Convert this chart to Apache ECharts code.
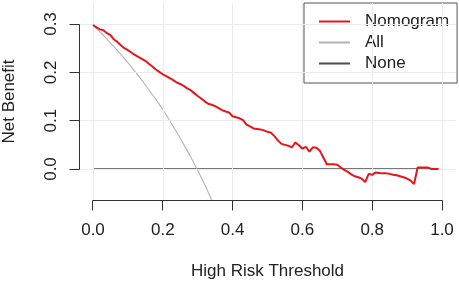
<!DOCTYPE html>
<html>
<head>
<meta charset="utf-8">
<script src="https://cdn.jsdelivr.net/npm/echarts@6/dist/echarts.min.js"></script>
<style>
  html, body { margin: 0; padding: 0; background: #fff; }
  #chart { width: 459px; height: 284px; }
</style>
</head>
<body>
<div id="chart"></div>
<script>
// decision curve: thresholds 0..0.99
const thresholds = [
  0.00, 0.01, 0.02, 0.03, 0.04, 0.05, 0.06, 0.07, 0.08, 0.09,
  0.10, 0.11, 0.12, 0.13, 0.14, 0.15, 0.16, 0.17, 0.18, 0.19,
  0.20, 0.21, 0.22, 0.23, 0.24, 0.25, 0.26, 0.27, 0.28, 0.29,
  0.30, 0.31, 0.32, 0.33, 0.34, 0.35, 0.36, 0.37, 0.38, 0.39,
  0.40, 0.41, 0.42, 0.43, 0.44, 0.45, 0.46, 0.47, 0.48, 0.49,
  0.50, 0.51, 0.52, 0.53, 0.54, 0.55, 0.56, 0.57, 0.58, 0.59,
  0.60, 0.61, 0.62, 0.63, 0.64, 0.65, 0.66, 0.67, 0.68, 0.69,
  0.70, 0.71, 0.72, 0.73, 0.74, 0.75, 0.76, 0.77, 0.78, 0.79,
  0.80, 0.81, 0.82, 0.83, 0.84, 0.85, 0.86, 0.87, 0.88, 0.89,
  0.90, 0.91, 0.92, 0.93, 0.94, 0.95, 0.96, 0.97, 0.98, 0.99
];
const nomogram = [
  0.298, 0.293, 0.289, 0.287, 0.281, 0.277, 0.268, 0.263, 0.256, 0.250,
  0.246, 0.241, 0.236, 0.232, 0.228, 0.224, 0.218, 0.212, 0.206, 0.201,
  0.196, 0.192, 0.188, 0.184, 0.179, 0.176, 0.172, 0.167, 0.163, 0.157,
  0.151, 0.146, 0.140, 0.135, 0.133, 0.130, 0.126, 0.122, 0.119, 0.117,
  0.109, 0.107, 0.105, 0.101, 0.092, 0.088, 0.084, 0.083, 0.082, 0.080,
  0.077, 0.075, 0.068, 0.059, 0.052, 0.050, 0.048, 0.045, 0.055, 0.049,
  0.042, 0.046, 0.036, 0.045, 0.044, 0.038, 0.024, 0.010, 0.010, 0.010,
  0.009, 0.003, -0.002, -0.006, -0.011, -0.015, -0.017, -0.020, -0.027, -0.010,
  -0.012, -0.007, -0.008, -0.009, -0.009, -0.010, -0.012, -0.013, -0.015, -0.017,
  -0.020, -0.024, -0.031, 0.003, 0.003, 0.003, 0.003, 0.000, 0.000, 0.000
];
// treat-all curve (clipped below the plot)
const allThresholds = [0, 0.02, 0.04, 0.06, 0.08, 0.10, 0.12, 0.14, 0.16, 0.18,
  0.20, 0.22, 0.24, 0.26, 0.28, 0.30, 0.32, 0.34, 0.36];
const allValues = [0.298, 0.284, 0.269, 0.253, 0.237, 0.220, 0.202, 0.184, 0.164, 0.144,
  0.123, 0.100, 0.076, 0.051, 0.025, -0.003, -0.032, -0.064, -0.097];
const noneThresholds = [0, 0.99];
const noneValues = [0, 0];

const xTicks = [0, 0.2, 0.4, 0.6, 0.8, 1.0];
const yTicks = [0, 0.1, 0.2, 0.3];

// plot region limits (R usr, 4% expansion)
const X_MIN = -0.04, X_MAX = 1.0401;
const Y_MIN = -0.0641, Y_MAX = 0.3435;
const PLOT = { left: 79, top: 3, width: 377, height: 197 };

const FONT = "'Liberation Sans', Arial, sans-serif";
const AXIS_COLOR = '#333';
const zip = (xs, ys) => xs.map((x, i) => [x, ys[i]]);

// same linear mapping as the grid 0 value axes
const px = v => PLOT.left + (v - X_MIN) / (X_MAX - X_MIN) * PLOT.width;
const py = v => PLOT.top + (Y_MAX - v) / (Y_MAX - Y_MIN) * PLOT.height;
const crisp = p => Math.round(p - 0.5) + 0.5;
const TICK = 10;

const axisLine = (x1, y1, x2, y2) => ({
  type: 'line', silent: true, z: 10,
  shape: { x1: x1, y1: y1, x2: x2, y2: y2 },
  style: { stroke: AXIS_COLOR, lineWidth: 1 }
});
const xBase = crisp(py(Y_MIN));
const yBase = crisp(px(X_MIN));
const axisGraphics = [
  axisLine(crisp(px(xTicks[0])), xBase, crisp(px(xTicks[xTicks.length - 1])), xBase)
]
  .concat(xTicks.map(v => axisLine(crisp(px(v)), xBase, crisp(px(v)), xBase + TICK)))
  .concat([axisLine(yBase, crisp(py(yTicks[0])), yBase, crisp(py(yTicks[yTicks.length - 1])))])
  .concat(yTicks.map(v => axisLine(yBase - TICK, crisp(py(v)), yBase, crisp(py(v)))));

const titles = [
  {
    type: 'text', x: 267.5, y: 271.7,
    style: { text: 'High Risk Threshold', font: '17px ' + FONT, fill: '#222',
      textAlign: 'center', textVerticalAlign: 'middle' }
  },
  {
    type: 'text', x: 9.6, y: 101.5, rotation: Math.PI / 2,
    style: { text: 'Net Benefit', font: '17px ' + FONT, fill: '#222',
      textAlign: 'center', textVerticalAlign: 'middle' }
  }
];

const chart = echarts.init(document.getElementById('chart'));

try {
  chart.setOption({
    animation: false,
    grid: [
      PLOT,
      // x labels: tick range 0..1
      { left: 93, top: 24, width: 349, height: 176 },
      // y labels: tick range 0..0.3
      { left: 79, top: 24, width: 363, height: 145 }
    ],
    xAxis: [
      { gridIndex: 0, type: 'value', min: X_MIN, max: X_MAX, show: false },
      {
        gridIndex: 1, type: 'value', min: 0, max: 1, interval: 0.2,
        axisLine: { show: false },
        axisTick: { show: false },
        axisLabel: { margin: 22, fontSize: 17, color: '#222', fontFamily: FONT,
          formatter: v => Number(v).toFixed(1) },
        splitLine: { show: false }
      },
      { gridIndex: 2, type: 'value', min: 0, max: 1, show: false }
    ],
    yAxis: [
      { gridIndex: 0, type: 'value', min: Y_MIN, max: Y_MAX, show: false },
      { gridIndex: 1, type: 'value', min: 0, max: 1, show: false },
      {
        gridIndex: 2, type: 'value', min: 0, max: 0.3, interval: 0.1,
        axisLine: { show: false },
        axisTick: { show: false },
        axisLabel: { rotate: 90, margin: 19, fontSize: 17, color: '#222', fontFamily: FONT,
          formatter: v => Number(v).toFixed(1) },
        splitLine: { show: false }
      }
    ],
    legend: {
      orient: 'vertical',
      left: 304,
      top: 3,
      data: [
        { name: 'Nomogram', icon: 'rect' },
        { name: 'All', icon: 'rect' },
        { name: 'None', icon: 'rect' }
      ],
      itemWidth: 31,
      itemHeight: 2,
      itemGap: 4,
      padding: [10, 8, 11, 15],
      borderColor: '#555',
      borderWidth: 1,
      borderRadius: 0,
      textStyle: {
        fontSize: 17, color: '#222', fontFamily: FONT,
        rich: { t: { fontSize: 17, color: '#222', fontFamily: FONT, padding: [0, 0, 0, 10] } }
      },
      formatter: name => '{t|' + name + '}'
    },
    graphic: titles.concat(axisGraphics),
    series: [
      {
        name: 'grid',
        type: 'line',
        xAxisIndex: 0, yAxisIndex: 0,
        data: [[0, 0]],
        symbol: 'none',
        lineStyle: { opacity: 0 },
        z: 1,
        silent: true,
        markLine: {
          silent: true,
          symbol: 'none',
          label: { show: false },
          lineStyle: { color: '#ebebeb', width: 1, type: 'solid' },
          data: xTicks.map(v => ({ xAxis: v })).concat(yTicks.map(v => ({ yAxis: v })))
        }
      },
      {
        name: 'None',
        type: 'line',
        xAxisIndex: 0, yAxisIndex: 0,
        data: zip(noneThresholds, noneValues),
        symbol: 'none',
        lineStyle: { color: '#4d4d4d', width: 1.6 },
        itemStyle: { color: '#4d4d4d' },
        z: 3
      },
      {
        name: 'All',
        type: 'line',
        xAxisIndex: 0, yAxisIndex: 0,
        data: zip(allThresholds, allValues),
        symbol: 'none',
        smooth: 0.3,
        lineStyle: { color: '#b3b3b3', width: 1.1 },
        itemStyle: { color: '#b3b3b3' },
        z: 4
      },
      {
        name: 'Nomogram',
        type: 'line',
        xAxisIndex: 0, yAxisIndex: 0,
        data: zip(thresholds, nomogram),
        symbol: 'none',
        lineStyle: { color: '#e8151b', width: 2 },
        itemStyle: { color: '#e8151b' },
        z: 5
      }
    ]
  });
} catch (e) {
  console.error(e);
}
</script>
</body>
</html>
